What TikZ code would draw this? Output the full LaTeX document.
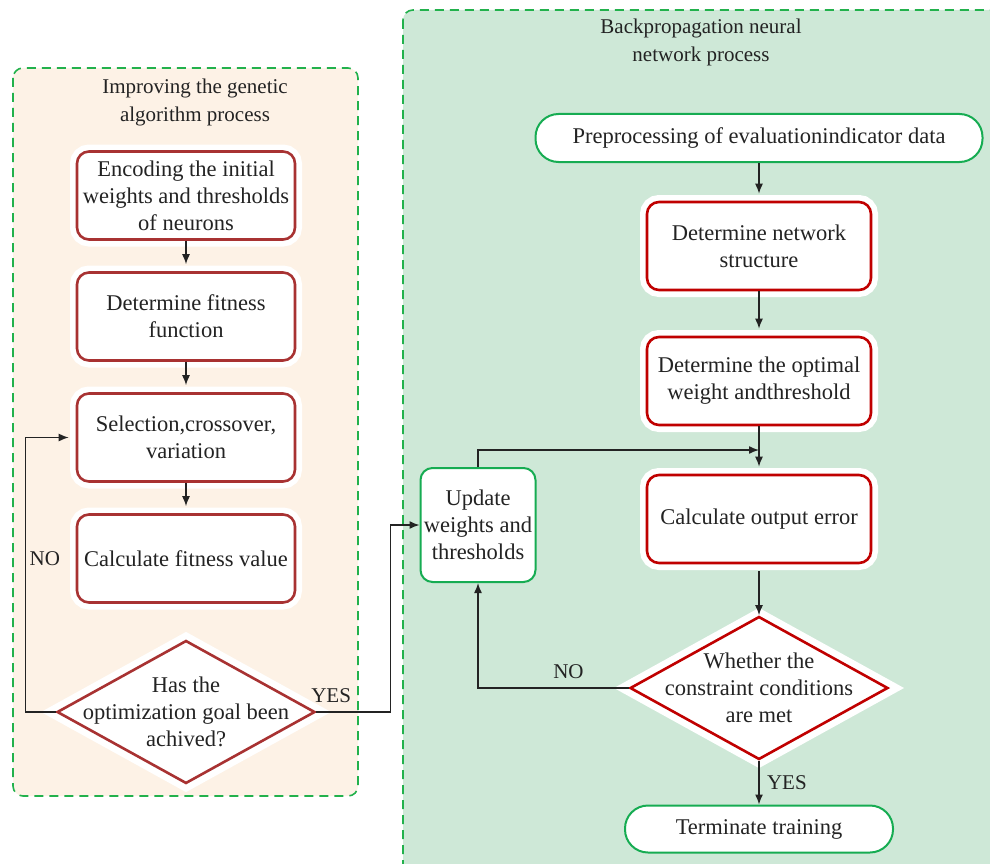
\documentclass[tikz,border=0pt]{standalone}
\usepackage{fontspec}
\setmainfont{Liberation Serif}
\usepackage{tikz}
\usetikzlibrary{shapes,arrows.meta,calc}

\definecolor{gafill}{RGB}{253,242,230}
\definecolor{bpfill}{RGB}{206,232,215}
\definecolor{dashgreen}{RGB}{34,177,76}
\definecolor{brick}{RGB}{168,50,50}
\definecolor{deepred}{RGB}{192,0,0}
\definecolor{boxgreen}{RGB}{22,172,82}
\definecolor{ink}{RGB}{35,35,35}

\tikzstyle{line} = [draw=ink, -{Latex[length=10pt, width=8pt]}, line width=1.4pt]
\tikzstyle{area} = [draw=dashgreen, line width=1.6pt, dash pattern=on 9pt off 6pt, rounded corners=10pt]
\tikzstyle{title} = [text=ink, align=center, font=\fontsize{21}{28}\selectfont]
\tikzstyle{lbl} = [text=ink, font=\fontsize{21}{25}\selectfont]
\tikzstyle{gastep} = [rectangle, rounded corners=12pt, draw=brick, line width=2.6pt, fill=white, preaction={draw=white, line width=14pt}, minimum width=218pt, minimum height=88pt, text=ink, align=center, inner sep=2pt, node distance=121pt, font=\fontsize{22.5}{27}\selectfont]
\tikzstyle{bpstep} = [gastep, draw=deepred, minimum width=224pt]
\tikzstyle{greenstep} = [rectangle, rounded corners=12pt, draw=boxgreen, line width=2pt, fill=white, minimum width=115pt, minimum height=114pt, text=ink, align=center, inner sep=1pt, font=\fontsize{22.5}{27}\selectfont]
\tikzstyle{terminal} = [rectangle, rounded corners=23pt, draw=boxgreen, line width=2pt, fill=white, minimum width=447pt, minimum height=48pt, text=ink, font=\fontsize{22.5}{27}\selectfont]
\tikzstyle{decision} = [diamond, aspect=1.8, draw=brick, line width=2.6pt, fill=white, preaction={draw=white, line width=16pt, line join=miter}, minimum width=258pt, minimum height=143pt, inner sep=-22pt, text=ink, align=center, font=\fontsize{22.5}{27}\selectfont]

\begin{document}
\begin{tikzpicture}[x=1pt, y=-1pt]
\useasboundingbox (0,0) rectangle (990,864);
\clip (0,0) rectangle (990,864);

% the two process areas
\draw [area, fill=gafill] (13,68) rectangle (358,796);
\draw [area, fill=bpfill] (403,10) rectangle (1010,890);
\node [title] (gatitle) at (195,102) {Improving the genetic\\algorithm process};
\node [title] (bptitle) at (701,42) {Backpropagation neural\\network process};

% genetic algorithm side
\node [gastep] (encode) at (186,195.5) {Encoding the initial\\weights and thresholds\\of neurons};
\node [gastep, below of = encode] (fitfun) {Determine fitness\\function};
\node [gastep, below of = fitfun] (select) {Selection,crossover,\\variation};
\node [gastep, below of = select] (fitval) {Calculate fitness value};
\node [decision, below of = fitval, node distance = 153.5pt] (goal) {Has the\\optimization goal been\\achived?};

% neural network side
\node [terminal] (prep) at (759,138) {Preprocessing of evaluationindicator data};
\node [bpstep, below of = prep, node distance = 108pt] (network) {Determine network\\structure};
\node [bpstep, below of = network, node distance = 135pt] (optimal) {Determine the optimal\\weight andthreshold};
\node [bpstep, below of = optimal, node distance = 138pt] (error) {Calculate output error};
\node [decision, draw=deepred, below of = error, node distance = 169pt] (check) {Whether the\\constraint conditions\\are met};
\node [terminal, below of = check, node distance = 141pt, minimum width = 268pt, minimum height = 47pt] (term) {Terminate training};
\node [greenstep] (update) at (478,525) {Update\\weights and\\thresholds};
\coordinate (merge) at ($(optimal.south)!0.5!(error.north)$);

\path [line, shorten >=7pt] (encode.south) to (fitfun.north);
\path [line, shorten >=7pt] (fitfun.south) to (select.north);
\path [line, shorten >=7pt] (select.south) to (fitval.north);
\path [line, shorten >=7pt] (goal.west) -- ++(-30,0) |- node [lbl, pos=0.28, right] {NO} (select.west);
\path [line] (goal.east) -- node [lbl, pos=0.2, above, yshift=5pt] {YES} ++(74,0) |- (update.west);

\path [line, shorten >=7pt] (prep.south) to (network.north);
\path [line, shorten >=7pt] (network.south) to (optimal.north);
\path [line, shorten >=7pt] (optimal.south) to (error.north);
\path [line] (update.north) |- (merge);
\path [line, shorten <=7pt] (error.south) to (check.north);
\path [line] (check.west) -| node [lbl, pos=0.2, above, yshift=5pt] {NO} (update.south);
\path [line] (check.south) to node [lbl, right, xshift=4pt] {YES} (term.north);

\end{tikzpicture}
\end{document}
